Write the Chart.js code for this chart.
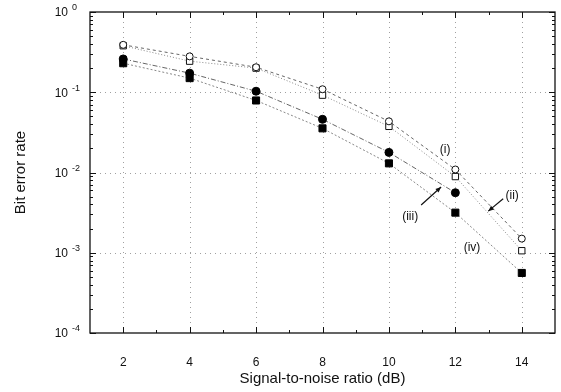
<!DOCTYPE html>
<html>
<head>
<meta charset="utf-8">
<script src="https://cdn.jsdelivr.net/npm/chart.js@4"></script>
<style>
  body { margin: 0; background: #fff; }
  canvas { display: block; }
</style>
</head>
<body>
<canvas id="berChart" width="561" height="392"></canvas>
<script>
// signal-to-noise ratio (dB)
const snr = [2, 4, 6, 8, 10, 12, 14];
// bit error rate for each curve
const curveI = [0.39, 0.28, 0.205, 0.109, 0.0434, 0.0109, 0.0015];
const curveII = [0.38, 0.244, 0.2, 0.092, 0.0376, 0.0089, 0.00106];
const curveIII = [0.26, 0.173, 0.103, 0.046, 0.0178, 0.0056, null];
const curveIV = [0.23, 0.15, 0.079, 0.0355, 0.013, 0.00316, 0.00056];

const xTicks = [2, 4, 6, 8, 10, 12, 14];
const yDecades = [-4, -3, -2, -1, 0];

// curve labels (in data units)
const noteText = ["(i)", "(ii)", "(iii)", "(iv)"];
const noteX = [11.69, 13.71, 10.64, 12.5];
const noteY = [0.019, 0.0052, 0.0028, 0.00115];
// arrows: from -> to
const arrowFrom = [[10.97, 0.00394], [13.44, 0.0047]];
const arrowTo = [[11.57, 0.0066], [12.99, 0.0033]];

const pts = (ys) => snr.map((x, i) => ({ x: x, y: ys[i] }));

const FONT = "'Liberation Sans', Arial, Helvetica, sans-serif";

const axesPlugin = {
  id: "axesPlugin",
  beforeDatasetsDraw(chart) {
    const { ctx, chartArea: a, scales: { x, y } } = chart;
    ctx.save();
    // dotted grid
    ctx.strokeStyle = "#a0a0a0";
    ctx.lineWidth = 1;
    ctx.setLineDash([1, 4]);
    xTicks.forEach((v) => {
      const px = Math.round(x.getPixelForValue(v)) + 0.5;
      ctx.beginPath();
      ctx.moveTo(px, a.top);
      ctx.lineTo(px, a.bottom);
      ctx.stroke();
    });
    yDecades.slice(1, -1).forEach((d) => {
      const py = Math.round(y.getPixelForValue(Math.pow(10, d))) + 0.5;
      ctx.beginPath();
      ctx.moveTo(a.left, py);
      ctx.lineTo(a.right, py);
      ctx.stroke();
    });
    ctx.restore();
  },
  afterDatasetsDraw(chart) {
    const { ctx, chartArea: a, scales: { x, y } } = chart;
    ctx.save();
    ctx.strokeStyle = "#111";
    ctx.lineWidth = 1.3;
    ctx.strokeRect(a.left, a.top, a.right - a.left, a.bottom - a.top);

    // x ticks, inward, top and bottom
    ctx.lineWidth = 1;
    for (let v = 2; v <= 14; v++) {
      const px = Math.round(x.getPixelForValue(v)) + 0.5;
      const len = v % 2 === 0 ? 6 : 3;
      ctx.beginPath();
      ctx.moveTo(px, a.bottom);
      ctx.lineTo(px, a.bottom - len);
      ctx.moveTo(px, a.top);
      ctx.lineTo(px, a.top + len);
      ctx.stroke();
    }
    // y ticks, inward, left and right
    yDecades.forEach((d) => {
      for (let m = 1; m <= 9; m++) {
        if (d === 0 && m > 1) break;
        const py = Math.round(y.getPixelForValue(m * Math.pow(10, d))) + 0.5;
        const len = m === 1 ? 6 : 3;
        ctx.beginPath();
        ctx.moveTo(a.left, py);
        ctx.lineTo(a.left + len, py);
        ctx.moveTo(a.right, py);
        ctx.lineTo(a.right - len, py);
        ctx.stroke();
      }
    });

    // y tick labels 10^n
    ctx.fillStyle = "#111";
    ctx.textBaseline = "middle";
    yDecades.forEach((d) => {
      const py = y.getPixelForValue(Math.pow(10, d));
      ctx.font = "12px " + FONT;
      ctx.textAlign = "right";
      ctx.fillText("10", 68, py + 1);
      ctx.font = "9px " + FONT;
      ctx.textAlign = "left";
      ctx.fillText(d === 0 ? "0" : "-" + Math.abs(d), 72, py - 4);
    });

    // curve notes
    ctx.font = "12px " + FONT;
    ctx.textAlign = "center";
    noteText.forEach((t, i) => {
      ctx.fillText(t, x.getPixelForValue(noteX[i]), y.getPixelForValue(noteY[i]));
    });

    // arrows
    ctx.lineWidth = 1.2;
    arrowFrom.forEach((f, i) => {
      const x0 = x.getPixelForValue(f[0]), y0 = y.getPixelForValue(f[1]);
      const x1 = x.getPixelForValue(arrowTo[i][0]), y1 = y.getPixelForValue(arrowTo[i][1]);
      const ang = Math.atan2(y1 - y0, x1 - x0);
      ctx.beginPath();
      ctx.moveTo(x0, y0);
      ctx.lineTo(x1, y1);
      ctx.stroke();
      ctx.beginPath();
      ctx.moveTo(x1, y1);
      ctx.lineTo(x1 - 6 * Math.cos(ang - 0.4), y1 - 6 * Math.sin(ang - 0.4));
      ctx.lineTo(x1 - 6 * Math.cos(ang + 0.4), y1 - 6 * Math.sin(ang + 0.4));
      ctx.closePath();
      ctx.fill();
    });
    ctx.restore();
  },
};

new Chart(document.getElementById("berChart"), {
  type: "line",
  data: {
    datasets: [
      {
        label: "(i)",
        data: pts(curveI),
        borderColor: "#666",
        borderWidth: 1,
        borderDash: [3, 3],
        pointStyle: "circle",
        pointRadius: 3.5,
        pointBackgroundColor: "#fff",
        pointBorderColor: "#111",
        pointBorderWidth: 1,
      },
      {
        label: "(ii)",
        data: pts(curveII),
        borderColor: "#888",
        borderWidth: 1,
        borderDash: [1, 2],
        pointStyle: "rect",
        pointRadius: 4.5,
        pointBackgroundColor: "#fff",
        pointBorderColor: "#111",
        pointBorderWidth: 1,
      },
      {
        label: "(iii)",
        data: pts(curveIII),
        borderColor: "#666",
        borderWidth: 1,
        borderDash: [5, 2, 1, 2],
        pointStyle: "circle",
        pointRadius: 4,
        pointBackgroundColor: "#000",
        pointBorderColor: "#000",
      },
      {
        label: "(iv)",
        data: pts(curveIV),
        borderColor: "#888",
        borderWidth: 1,
        borderDash: [2, 2],
        pointStyle: "rect",
        pointRadius: 5,
        pointBackgroundColor: "#000",
        pointBorderColor: "#000",
      },
    ],
  },
  options: {
    responsive: false,
    animation: false,
    devicePixelRatio: 1,
    layout: { padding: { left: 8, right: 6, top: 12, bottom: 0 } },
    plugins: { legend: { display: false }, tooltip: { enabled: false } },
    scales: {
      x: {
        type: "linear",
        min: 1,
        max: 15,
        afterBuildTicks: (s) => { s.ticks = xTicks.map((v) => ({ value: v })); },
        afterFit: (s) => { s.height = 59; },
        grid: { display: false },
        border: { display: false },
        ticks: { color: "#111", padding: 14, font: { size: 12, family: FONT } },
        title: {
          display: true,
          text: "Signal-to-noise ratio (dB)",
          color: "#111",
          font: { size: 15, family: FONT },
        },
      },
      y: {
        type: "logarithmic",
        min: 1e-4,
        max: 1,
        afterFit: (s) => { s.width = 82; },
        grid: { display: false },
        border: { display: false },
        ticks: { display: false },
        title: {
          display: true,
          text: "Bit error rate",
          color: "#111",
          font: { size: 15, family: FONT },
        },
      },
    },
  },
  plugins: [axesPlugin],
});
</script>
</body>
</html>
